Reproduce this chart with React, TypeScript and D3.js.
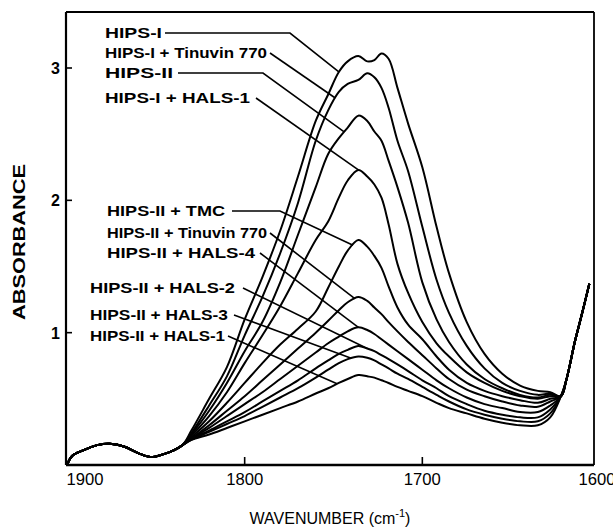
import React from "react";
import * as d3 from "d3";

const W = 613;
const H = 530;

// Common low-wavenumber baseline shared by every spectrum
const baselineWn = [1900, 1897, 1891, 1883, 1876, 1868, 1860, 1853, 1846, 1840, 1835];
const baselineAbs = [0.0, 0.07, 0.11, 0.15, 0.16, 0.14, 0.09, 0.06, 0.08, 0.11, 0.15];

// Carbonyl band region
const bandWn = [1830, 1820, 1810, 1800, 1790, 1780, 1770, 1760, 1753, 1747, 1742, 1736, 1731, 1727, 1723, 1719, 1714, 1708, 1700, 1692, 1685, 1675, 1665, 1655, 1645, 1635, 1628];

const hipsI = [0.26, 0.5, 0.74, 1.1, 1.42, 1.77, 2.18, 2.6, 2.8, 2.97, 3.05, 3.09, 3.05, 3.06, 3.11, 3.07, 2.85, 2.58, 2.25, 1.8, 1.45, 1.08, 0.84, 0.69, 0.6, 0.56, 0.55];
const hipsITinuvin = [0.24, 0.45, 0.67, 0.98, 1.27, 1.6, 1.98, 2.45, 2.68, 2.82, 2.88, 2.91, 2.96, 2.93, 2.85, 2.7, 2.45, 2.22, 1.8, 1.4, 1.15, 0.9, 0.73, 0.62, 0.56, 0.53, 0.54];
const hipsII = [0.23, 0.41, 0.62, 0.86, 1.08, 1.38, 1.74, 2.1, 2.35, 2.47, 2.55, 2.64, 2.6, 2.52, 2.45, 2.3, 2.1, 1.83, 1.38, 1.1, 0.93, 0.76, 0.65, 0.58, 0.53, 0.51, 0.53];
const hipsIHals1 = [0.22, 0.37, 0.55, 0.77, 0.98, 1.2, 1.45, 1.7, 1.84, 2.02, 2.15, 2.23, 2.18, 2.12, 2.02, 1.82, 1.52, 1.3, 1.08, 0.92, 0.82, 0.7, 0.62, 0.56, 0.52, 0.5, 0.52];
const hipsIITmc = [0.21, 0.33, 0.47, 0.62, 0.77, 0.91, 1.03, 1.16, 1.34, 1.5, 1.62, 1.7, 1.65, 1.58, 1.49, 1.35, 1.19, 1.06, 0.95, 0.82, 0.72, 0.62, 0.56, 0.52, 0.49, 0.47, 0.5];
const hipsIITinuvin = [0.2, 0.3, 0.41, 0.52, 0.64, 0.76, 0.88, 1.0, 1.09, 1.17, 1.23, 1.27, 1.24, 1.19, 1.14, 1.08, 1.01, 0.93, 0.83, 0.73, 0.65, 0.57, 0.52, 0.48, 0.45, 0.44, 0.48];
const hipsIIHals4 = [0.2, 0.28, 0.37, 0.46, 0.55, 0.65, 0.75, 0.85, 0.92, 0.97, 1.01, 1.04, 1.02, 0.99, 0.95, 0.91, 0.86, 0.8, 0.72, 0.64, 0.58, 0.51, 0.46, 0.43, 0.4, 0.4, 0.45];
const hipsIIHals2 = [0.2, 0.26, 0.33, 0.4, 0.48, 0.56, 0.64, 0.73, 0.79, 0.84, 0.87, 0.9, 0.88, 0.86, 0.83, 0.8, 0.76, 0.71, 0.64, 0.58, 0.52, 0.46, 0.41, 0.38, 0.36, 0.36, 0.42];
const hipsIIHals3 = [0.19, 0.25, 0.31, 0.37, 0.44, 0.51, 0.58, 0.66, 0.72, 0.77, 0.8, 0.82, 0.81, 0.79, 0.76, 0.73, 0.69, 0.65, 0.59, 0.53, 0.48, 0.42, 0.38, 0.35, 0.33, 0.33, 0.39];
const hipsIIHals1 = [0.19, 0.23, 0.28, 0.33, 0.38, 0.43, 0.48, 0.54, 0.58, 0.62, 0.65, 0.68, 0.67, 0.66, 0.64, 0.62, 0.59, 0.56, 0.52, 0.47, 0.43, 0.39, 0.35, 0.32, 0.3, 0.3, 0.36];

// Shared rising edge towards 1600 cm-1
const edgeWn = [1622, 1619, 1614, 1610, 1606];
const edgeAbs = [0.52, 0.64, 0.94, 1.15, 1.37];

const seriesNames = [
  "HIPS-I",
  "HIPS-I + Tinuvin 770",
  "HIPS-II",
  "HIPS-I + HALS-1",
  "HIPS-II + TMC",
  "HIPS-II + Tinuvin 770",
  "HIPS-II + HALS-4",
  "HIPS-II + HALS-2",
  "HIPS-II + HALS-3",
  "HIPS-II + HALS-1",
];
const seriesValues = [
  hipsI, hipsITinuvin, hipsII, hipsIHals1, hipsIITmc,
  hipsIITinuvin, hipsIIHals4, hipsIIHals2, hipsIIHals3, hipsIIHals1,
];

const xTicks = [1900, 1800, 1700, 1600];
const yTicks = [1, 2, 3];

// Label placement: text box, leader start, optional bend, and the wavenumber where the leader meets its curve
const labelLayout = [
  { tx: 105, ty: 33, w: 57, sx: 165, bx: 290, endWn: 1747 },
  { tx: 105, ty: 53, w: 162, sx: 270, bx: null, endWn: 1749 },
  { tx: 105, ty: 73, w: 68, sx: 178, bx: 263, endWn: 1744 },
  { tx: 105, ty: 98, w: 145, sx: 256, bx: null, endWn: 1736 },
  { tx: 107, ty: 211, w: 118, sx: 232, bx: 280, endWn: 1739 },
  { tx: 107, ty: 233, w: 160, sx: 270, bx: null, endWn: 1738 },
  { tx: 107, ty: 253, w: 148, sx: 260, bx: null, endWn: 1736 },
  { tx: 90, ty: 288, w: 145, sx: 243, bx: null, endWn: 1731 },
  { tx: 90, ty: 315, w: 138, sx: 234, bx: null, endWn: 1740 },
  { tx: 90, ty: 336, w: 135, sx: 228, bx: null, endWn: 1748 },
];

const x = d3.scaleLinear().domain([1900, 1600]).range([67, 600]);
const y = d3.scaleLinear().domain([0, 3]).range([465, 68]);

const frame = { left: 66, right: 594, top: 12, bottom: 465 };

function valueAt(values: number[], wn: number): number {
  const i = bandWn.findIndex((w) => w < wn);
  if (i <= 0) return values[0];
  const w0 = bandWn[i - 1];
  const w1 = bandWn[i];
  const t = (w0 - wn) / (w0 - w1);
  return values[i - 1] + t * (values[i] - values[i - 1]);
}

export default function App() {
  const line = d3
    .line<[number, number]>()
    .x((d) => x(d[0]))
    .y((d) => y(d[1]))
    .curve(d3.curveCatmullRom.alpha(0.5));

  const spectra = seriesValues.map((vals) => {
    const pts: [number, number][] = [
      ...baselineWn.map((w, i) => [w, baselineAbs[i]] as [number, number]),
      ...bandWn.map((w, i) => [w, vals[i]] as [number, number]),
      ...edgeWn.map((w, i) => [w, edgeAbs[i]] as [number, number]),
    ];
    return line(pts) || "";
  });

  const labelFont = "'Liberation Sans', Arial, sans-serif";

  return (
    <svg
      width={W}
      height={H}
      viewBox={`0 0 ${W} ${H}`}
      style={{ position: "absolute", left: 0, top: 0, background: "#fff" }}
    >
      <rect x={0} y={0} width={W} height={H} fill="#fff" />

      {/* frame */}
      <line x1={frame.left} y1={frame.top} x2={frame.right} y2={frame.top} stroke="#000" strokeWidth={2.2} />
      <line x1={frame.right} y1={frame.top} x2={frame.right} y2={frame.bottom} stroke="#000" strokeWidth={1.8} />
      <line x1={frame.left} y1={frame.top} x2={frame.left} y2={frame.bottom} stroke="#000" strokeWidth={2.2} />
      <line x1={frame.left} y1={frame.bottom} x2={frame.right} y2={frame.bottom} stroke="#000" strokeWidth={2.4} />

      {/* x ticks */}
      {xTicks.map((t, i) => {
        const px = x(t);
        const isEnd = i === 0 || i === xTicks.length - 1;
        const lx = i === 0 ? px + 18 : i === xTicks.length - 1 ? px - 3 : px;
        return (
          <g key={`xt${t}`}>
            {!isEnd && <line x1={px} y1={frame.bottom} x2={px} y2={frame.bottom - 8} stroke="#000" strokeWidth={1.6} />}
            <text
              x={lx}
              y={485}
              textAnchor="middle"
              fontFamily={labelFont}
              fontSize={16}
              textLength={37}
              lengthAdjust="spacingAndGlyphs"
              fill="#000"
            >
              {t}
            </text>
          </g>
        );
      })}

      {/* y ticks */}
      {yTicks.map((t) => {
        const py = y(t);
        return (
          <g key={`yt${t}`}>
            <line x1={frame.left} y1={py} x2={frame.left + 6} y2={py} stroke="#000" strokeWidth={1.6} />
            <text x={60} y={py + 6} textAnchor="end" fontFamily={labelFont} fontWeight="bold" fontSize={16} fill="#000">
              {t}
            </text>
          </g>
        );
      })}

      {/* axis titles */}
      <text
        transform="translate(25,242) rotate(-90)"
        textAnchor="middle"
        fontFamily={labelFont}
        fontWeight="bold"
        fontSize={16}
        textLength={156}
        lengthAdjust="spacingAndGlyphs"
        fill="#000"
      >
        ABSORBANCE
      </text>
      <text x={330} y={524} textAnchor="middle" fontFamily={labelFont} fontSize={16} fill="#000">
        WAVENUMBER (cm
        <tspan dy={-7} fontSize={11}>-1</tspan>
        <tspan dy={7}>)</tspan>
      </text>

      {/* spectra */}
      {spectra.map((d, i) => (
        <path key={`s${i}`} d={d} fill="none" stroke="#000" strokeWidth={2} strokeLinejoin="round" />
      ))}

      {/* labels with leader lines */}
      {labelLayout.map((l, i) => {
        const ex = x(l.endWn);
        const ey = y(valueAt(seriesValues[i], l.endWn));
        const pts: [number, number][] = [[l.sx, l.ty]];
        if (l.bx !== null) pts.push([l.bx, l.ty]);
        pts.push([ex, ey]);
        return (
          <g key={`lab${i}`}>
            <text
              x={l.tx}
              y={l.ty + 5}
              fontFamily={labelFont}
              fontWeight="bold"
              fontSize={14}
              textLength={l.w}
              lengthAdjust="spacingAndGlyphs"
              fill="#000"
            >
              {seriesNames[i]}
            </text>
            <polyline
              points={pts.map((p) => p.join(",")).join(" ")}
              fill="none"
              stroke="#000"
              strokeWidth={1.6}
            />
          </g>
        );
      })}
    </svg>
  );
}
